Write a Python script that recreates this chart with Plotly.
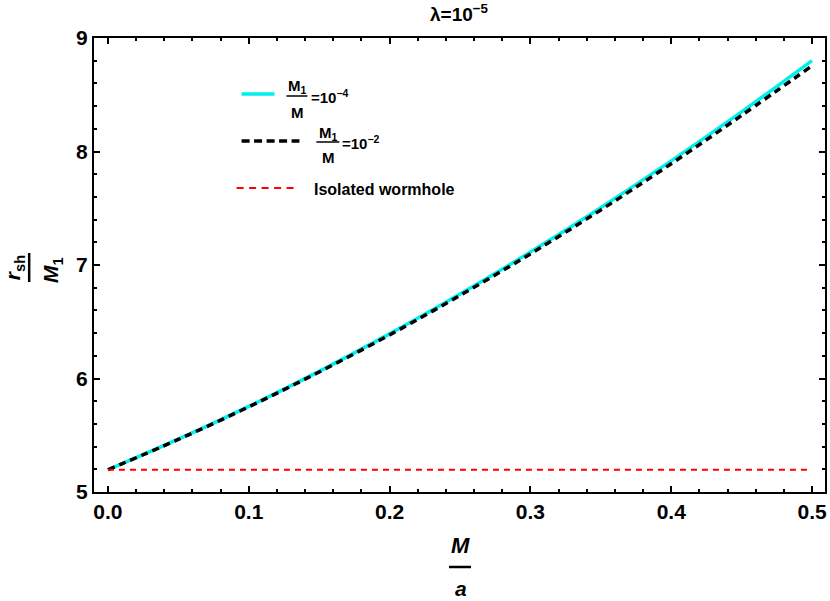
import plotly.graph_objects as go

# ── data ──
m_over_a = [0.0, 0.05, 0.10, 0.15, 0.20, 0.25, 0.30, 0.35, 0.40, 0.45, 0.50]
rsh_1e4 = [5.196, 5.465, 5.754, 6.063, 6.393, 6.744, 7.114, 7.505, 7.917, 8.349, 8.801]
rsh_1e2 = [5.196, 5.463, 5.750, 6.057, 6.384, 6.732, 7.098, 7.485, 7.892, 8.318, 8.755]
iso_x = [0.0, 0.5]
iso_y = [5.196, 5.196]

FONT = "Liberation Sans"
W, H = 830, 601
L, R, T, B = 94, 827, 38, 492  # plot area in pixels


def px(x):
    return (x - L) / (R - L)


def py(y):
    return (B - y) / (B - T)


fig = go.Figure()
fig.add_trace(go.Scatter(
    x=m_over_a, y=rsh_1e4, mode="lines", line=dict(color="#00f0f0", width=3.5, shape="spline"),
))
fig.add_trace(go.Scatter(
    x=m_over_a, y=rsh_1e2, mode="lines",
    line=dict(color="black", width=3.5, dash="7px,5px", shape="spline"),
))
fig.add_trace(go.Scatter(
    x=iso_x, y=iso_y, mode="lines", line=dict(color="#ff0000", width=2, dash="6px,5px"),
))

annots = []
shapes = []


def text(x, y, s, size, angle=0, xanchor="center"):
    annots.append(dict(
        x=px(x), y=py(y), xref="paper", yref="paper", text=s, showarrow=False,
        xanchor=xanchor, yanchor="middle", textangle=angle,
        font=dict(family=FONT, size=size, color="black", weight="bold"),
    ))


def seg(x0, y0, x1, y1, color="black", width=2, dash="solid"):
    shapes.append(dict(
        type="line", xref="paper", yref="paper",
        x0=px(x0), y0=py(y0), x1=px(x1), y1=py(y1),
        line=dict(color=color, width=width, dash=dash),
    ))


# title
text(461, 13, "λ=10<sup>−5</sup>", 19)

# x-axis label as a fraction
text(462, 545, "<i>M</i>", 22)
seg(450, 567, 472, 567, width=2.5)
text(462, 588, "<i>a</i>", 21)

# y-axis label, rotated fraction
text(14, 268, "<i>r</i><sub>sh</sub>", 21, angle=-90)
seg(29, 253, 29, 282, width=2.5)
text(52, 270, "<i>M</i><sub>1</sub>", 21, angle=-90)

# legend drawn by hand
seg(242, 94, 275, 94, color="#00f0f0", width=3.5)
text(298, 86, "M<sub>1</sub>", 15)
seg(287, 96, 308, 96, width=1.5)
text(298, 112, "M", 15)
text(310, 96, "=10<sup>−4</sup>", 15, xanchor="left")

seg(242, 141, 300, 141, width=3.5, dash="8px,4.5px")
text(329, 133, "M<sub>1</sub>", 15)
seg(317, 142, 340, 142, width=1.5)
text(329, 158, "M", 15)
text(341, 142, "=10<sup>−2</sup>", 15, xanchor="left")

seg(237, 188, 297, 188, color="#ff0000", width=2, dash="7px,5.5px")
text(313, 189, "Isolated wormhole", 16, xanchor="left")

axis_common = dict(
    showline=True, linecolor="black", linewidth=2, mirror="allticks",
    ticks="inside", ticklen=6, tickwidth=2, tickcolor="black",
    showgrid=False, zeroline=False,
    tickfont=dict(family=FONT, size=21, color="black", weight="bold"),
)

fig.update_layout(
    width=W, height=H,
    margin=dict(l=L, r=W - R, t=T, b=H - B),
    paper_bgcolor="white", plot_bgcolor="white",
    showlegend=False,
    xaxis=dict(
        range=[-0.0099, 0.5092], tickvals=[0.0, 0.1, 0.2, 0.3, 0.4, 0.5],
        ticktext=["0.0", "0.1", "0.2", "0.3", "0.4", "0.5"],
        minor=dict(ticks="inside", ticklen=3, tickwidth=1.5, tickcolor="black", dtick=0.02, tick0=0),
        **axis_common,
    ),
    yaxis=dict(
        range=[5, 9], tickvals=[5, 6, 7, 8, 9],
        minor=dict(ticks="inside", ticklen=3, tickwidth=1.5, tickcolor="black", dtick=0.2, tick0=5),
        **axis_common,
    ),
    annotations=annots,
    shapes=shapes,
)

# the page body has an 8px margin by default; drop it so the figure sits at 0,0
fig.write_html(
    "out.html",
    config={"displayModeBar": False},
    post_script="document.body.style.margin='0';",
)
